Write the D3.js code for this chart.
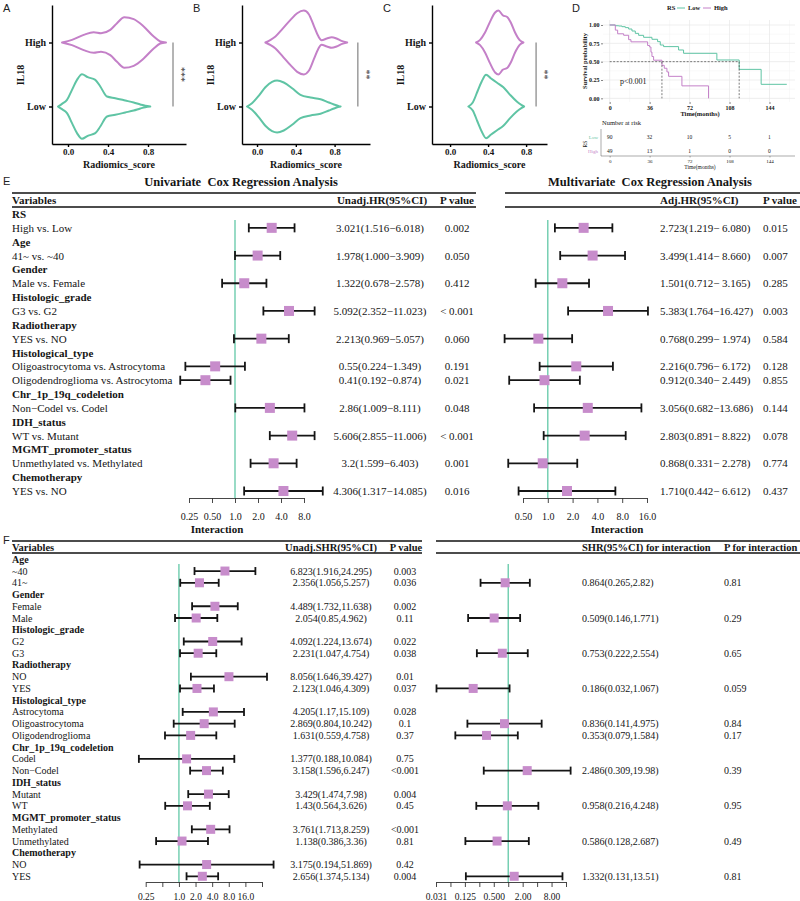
<!DOCTYPE html>
<html>
<head>
<meta charset="utf-8">
<script src="https://cdn.jsdelivr.net/npm/d3@7"></script>
<style>
  body { margin: 0; background: #fff; }
  svg { display: block; }
</style>
</head>
<body>
<div id="chart"></div>
<script>
// ---------- Data ----------

// Violin outlines: [Radiomics_score, relative density]
var violinGroups = ["High", "Low"];
var violinTicks = [0, 0.4, 0.8];
var violinA_High = [[-0.06,0],[0.04,0.08],[0.157,0.23],[0.257,0.31],[0.33,0.28],[0.423,0.38],[0.49,0.58],[0.563,0.76],[0.657,0.70],[0.757,0.48],[0.857,0.18],[0.923,0.03],[0.98,0]];
var violinA_Low  = [[-0.10,0],[-0.06,0.08],[-0.01,0.20],[0.04,0.50],[0.09,0.80],[0.14,0.97],[0.197,0.88],[0.273,0.80],[0.323,0.60],[0.39,0.30],[0.473,0.25],[0.573,0.18],[0.657,0.12],[0.723,0.06],[0.773,0.02],[0.823,0]];
var violinB_High = [[0.086,0],[0.14,0.08],[0.19,0.18],[0.26,0.40],[0.345,0.68],[0.414,0.88],[0.483,0.96],[0.534,0.85],[0.586,0.50],[0.63,0.20],[0.665,0.07],[0.72,0.12],[0.77,0.16],[0.82,0.12],[0.87,0.05],[0.93,0]];
var violinB_Low  = [[-0.103,0],[-0.052,0.10],[0.017,0.32],[0.086,0.58],[0.155,0.74],[0.207,0.78],[0.276,0.72],[0.362,0.55],[0.448,0.35],[0.552,0.27],[0.655,0.22],[0.741,0.12],[0.793,0.06],[0.845,0.01],[0.862,0]];
var violinC_High = [[0.274,0],[0.316,0.08],[0.368,0.30],[0.42,0.62],[0.474,0.90],[0.509,0.96],[0.554,0.82],[0.604,0.76],[0.639,0.60],[0.684,0.30],[0.73,0.08],[0.772,0]];
var violinC_Low  = [[0.193,0],[0.239,0.12],[0.288,0.45],[0.333,0.75],[0.379,0.95],[0.428,0.85],[0.491,0.72],[0.561,0.58],[0.632,0.35],[0.702,0.15],[0.754,0.04],[0.779,0]];

// Kaplan-Meier steps (months, survival probability)
var kmLowTime  = [0, 5.1, 8.1, 11.1, 14.1, 17.1, 20.1, 23.1, 26.1, 30.6, 38.1, 43.2, 45.6, 48.6, 62.1, 66.6, 96.6, 116.7, 136.5, 159.6];
var kmLowSurv  = [1, 0.99, 0.986, 0.977, 0.964, 0.945, 0.918, 0.886, 0.859, 0.832, 0.805, 0.773, 0.727, 0.705, 0.659, 0.614, 0.523, 0.395, 0.191, 0.191];
var kmHighTime = [0, 5.1, 7.2, 12.6, 17.1, 19.2, 34.2, 36, 37.2, 38.1, 39.6, 47.1, 49.2, 51.6, 53.1, 65.1, 89.1];
var kmHighSurv = [1, 0.93, 0.88, 0.86, 0.80, 0.77, 0.72, 0.70, 0.63, 0.57, 0.52, 0.45, 0.41, 0.36, 0.30, 0.17, 0];
var kmTicks = [0, 36, 72, 108, 144];
var kmSurvTicks = [0, 0.25, 0.5, 0.75, 1];
var riskLow  = [90, 32, 10, 5, 1];
var riskHigh = [49, 13, 1, 0, 0];

// Panel E: Cox regression
var coxVariables = ["RS", "Age", "Gender", "Histologic_grade", "Radiotherapy", "Histological_type",
                    "Chr_1p_19q_codeletion", "IDH_status", "MGMT_promoter_status", "Chemotherapy"];
var coxComparisons = [["High vs. Low"], ["41~ vs. ~40"], ["Male vs. Female"], ["G3 vs. G2"], ["YES vs. NO"],
                      ["Oligoastrocytoma vs. Astrocytoma", "Oligodendroglioma vs. Astrocytoma"],
                      ["Non\u2212Codel vs. Codel"], ["WT vs. Mutant"], ["Unmethylated vs. Methylated"], ["YES vs. NO"]];
var uniHR = [3.021, 1.978, 1.322, 5.092, 2.213, 0.55, 0.41, 2.86, 5.606, 3.2, 4.306];
var uniLo = [1.516, 1.000, 0.678, 2.352, 0.969, 0.224, 0.192, 1.009, 2.855, 1.599, 1.317];
var uniHi = [6.018, 3.909, 2.578, 11.023, 5.057, 1.349, 0.874, 8.111, 11.006, 6.403, 14.085];
var uniHRText = ["3.021(1.516\u22126.018)", "1.978(1.000\u22123.909)", "1.322(0.678\u22122.578)", "5.092(2.352\u221211.023)",
                 "2.213(0.969\u22125.057)", "0.55(0.224\u22121.349)", "0.41(0.192\u22120.874)", "2.86(1.009\u22128.111)",
                 "5.606(2.855\u221211.006)", "3.2(1.599\u22126.403)", "4.306(1.317\u221214.085)"];
var uniP = ["0.002", "0.050", "0.412", "< 0.001", "0.060", "0.191", "0.021", "0.048", "< 0.001", "0.001", "0.016"];
var multiHR = [2.723, 3.499, 1.501, 5.383, 0.768, 2.216, 0.912, 3.056, 2.803, 0.868, 1.710];
var multiLo = [1.219, 1.414, 0.712, 1.764, 0.299, 0.796, 0.340, 0.682, 0.891, 0.331, 0.442];
var multiHi = [6.080, 8.660, 3.165, 16.427, 1.974, 6.172, 2.449, 13.686, 8.822, 2.278, 6.612];
var multiP = ["0.015", "0.007", "0.285", "0.003", "0.584", "0.128", "0.855", "0.144", "0.078", "0.774", "0.437"];
var uniTicks = [0.25, 0.5, 1, 2, 4, 8];
var uniTickLabels = ["0.25", "0.50", "1.0", "2.0", "4.0", "8.0"];
var multiTicks = [0.5, 1, 2, 4, 8, 16];
var multiTickLabels = ["0.50", "1.0", "2.0", "4.0", "8.0", "16.0"];

// Panel F: subgroup competing-risk analysis
var subVariables = ["Age", "Gender", "Histologic_grade", "Radiotherapy", "Histological_type",
                    "Chr_1p_19q_codeletion", "IDH_status", "MGMT_promoter_status", "Chemotherapy"];
var subLevels = [["~40", "41~"], ["Female", "Male"], ["G2", "G3"], ["NO", "YES"],
                 ["Astrocytoma", "Oligoastrocytoma", "Oligodendroglioma"], ["Codel", "Non\u2212Codel"],
                 ["Mutant", "WT"], ["Methylated", "Unmethylated"], ["NO", "YES"]];
var subSHR = [6.823, 2.356, 4.489, 2.054, 4.092, 2.231, 8.056, 2.123, 4.205, 2.869, 1.631, 1.377, 3.158, 3.429, 1.43, 3.761, 1.138, 3.175, 2.656];
var subLo  = [1.916, 1.056, 1.732, 0.85, 1.224, 1.047, 1.646, 1.046, 1.17, 0.804, 0.559, 0.188, 1.596, 1.474, 0.564, 1.713, 0.386, 0.194, 1.374];
var subHi  = [24.295, 5.257, 11.638, 4.962, 13.674, 4.754, 39.427, 4.309, 15.109, 10.242, 4.758, 10.084, 6.247, 7.98, 3.626, 8.259, 3.36, 51.869, 5.134];
var subP   = ["0.003", "0.036", "0.002", "0.11", "0.022", "0.038", "0.01", "0.037", "0.028", "0.1", "0.37", "0.75", "<0.001", "0.004", "0.45", "<0.001", "0.81", "0.42", "0.004"];
var intSHR = [0.864, 0.509, 0.753, 0.186, 0.836, 0.353, 2.486, 0.958, 0.586, 1.332];
var intLo  = [0.265, 0.146, 0.222, 0.032, 0.141, 0.079, 0.309, 0.216, 0.128, 0.131];
var intHi  = [2.82, 1.771, 2.554, 1.067, 4.975, 1.584, 19.98, 4.248, 2.687, 13.51];
var intP   = ["0.81", "0.29", "0.65", "0.059", "0.84", "0.17", "0.39", "0.95", "0.49", "0.81"];
var subTicks = [0.25, 0.5, 1, 2, 4, 8, 16, 32];
var subTickLabels = ["0.25", "", "1.0", "2.0", "4.0", "8.0", "16.0", ""];
var intTicks = [1/32, 1/16, 1/8, 1/4, 1/2, 1, 2, 4, 8, 16];
var intTickLabels = ["0.031", "", "0.125", "", "0.500", "", "2.00", "", "8.00", ""];

// ---------- Styling ----------
var colLow = "#5fc4a4", colHigh = "#c480c8", colBox = "#c78ccb", colRef = "#62c8a7";
var serif = '"Liberation Serif","Times New Roman",serif';
var sans = '"Liberation Sans",Arial,sans-serif';
var ink = "#151515";

var svg = d3.select("#chart").append("svg")
    .attr("width", 800)
    .attr("height", 901)
    .attr("viewBox", "0 0 800 901");
svg.append("rect").attr("width", 800).attr("height", 901).attr("fill", "#fff");

function addText(sel, x, y, str, o) {
    o = o || {};
    var t = sel.append("text")
        .attr("x", x).attr("y", y)
        .attr("text-anchor", o.anchor || "start")
        .style("font-family", o.family || serif)
        .style("font-size", (o.size || 11) + "px")
        .style("font-weight", o.bold ? "bold" : "normal")
        .style("fill", o.fill || ink)
        .style("white-space", "pre")
        .text(str);
    if (o.rotate) t.attr("transform", "rotate(" + o.rotate + "," + x + "," + y + ")");
    return t;
}

function styleAxis(ax, fs, bold, stroke, sw) {
    ax.selectAll("path.domain").attr("stroke", stroke || ink).attr("stroke-width", sw || 1);
    ax.selectAll(".tick line").attr("stroke", stroke || ink).attr("stroke-width", sw || 1);
    ax.selectAll("text")
        .style("font-family", serif)
        .style("font-size", fs + "px")
        .style("font-weight", bold ? "bold" : "normal")
        .attr("fill", ink);
}

// ---------- Panel letters ----------
[["A", 3, 12], ["B", 193, 12], ["C", 383, 12], ["D", 572, 12], ["E", 3, 185], ["F", 3, 544]].forEach(function(l) {
    addText(svg, l[1], l[2], l[0], { family: sans, size: 11, fill: "#222" });
});

// ---------- Panels A-C: violins ----------
var violinLayout = [
    { data: [violinA_High, violinA_Low], domain: [-0.16, 1.18],  range: [52, 186],  sig: 1.05,  stars: "***" },
    { data: [violinB_High, violinB_Low], domain: [-0.155, 1.165], range: [242, 370], sig: 1.04,  stars: "**" },
    { data: [violinC_High, violinC_Low], domain: [-0.19, 1.02],  range: [432, 547], sig: 0.905, stars: "**" }
];

violinLayout.forEach(function(p) {
    var g = svg.append("g");
    var x = d3.scaleLinear().domain(p.domain).range(p.range);
    var y = d3.scalePoint().domain(violinGroups).range([5, 144]).padding(0.586);
    var w = d3.scaleLinear().domain([0, 1]).range([0, 33.3]);

    p.data.forEach(function(vals, i) {
        var grp = violinGroups[i];
        var cy = y(grp);
        var area = d3.area()
            .curve(d3.curveMonotoneX)
            .x(function(d) { return x(d[0]); })
            .y0(function(d) { return cy - w(d[1]); })
            .y1(function(d) { return cy + w(d[1]); });
        g.append("path")
            .datum(vals)
            .attr("d", area)
            .attr("fill", "#fff")
            .attr("stroke", grp === "High" ? colHigh : colLow)
            .attr("stroke-width", 2)
            .attr("stroke-linejoin", "round");
    });

    var xa = g.append("g")
        .attr("transform", "translate(0,144)")
        .call(d3.axisBottom(x).tickValues(violinTicks).tickFormat(d3.format(".1f")).tickSizeInner(3).tickSizeOuter(0).tickPadding(2));
    styleAxis(xa, 9, true, "#000", 1.4);

    var ya = g.append("g")
        .attr("transform", "translate(" + p.range[0] + ",0)")
        .call(d3.axisLeft(y).tickSizeInner(3).tickSizeOuter(0).tickPadding(3));
    styleAxis(ya, 10, true, "#000", 1.4);

    // significance bar
    g.append("line")
        .attr("x1", x(p.sig)).attr("x2", x(p.sig))
        .attr("y1", y("High")).attr("y2", y("Low"))
        .attr("stroke", "#444").attr("stroke-width", 0.8);
    addText(g, x(p.sig) + 5, (y("High") + y("Low")) / 2, p.stars, { size: 10, anchor: "middle", rotate: 90, fill: "#333" });

    addText(g, p.range[0] - 28, 75, "IL18", { size: 10, bold: true, anchor: "middle", rotate: -90 });
    addText(g, (p.range[0] + p.range[1]) / 2, 168, "Radiomics_score", { size: 10, bold: true, anchor: "middle" });
});

// ---------- Panel D: Kaplan-Meier ----------
(function() {
    var g = svg.append("g");
    var x = d3.scaleLinear().domain([-6, 167]).range([603, 795]);
    var y = d3.scaleLinear().domain([-0.05, 1.068]).range([102, 20]);

    // grid
    var minorX = [18, 54, 90, 126, 162], minorY = [0.125, 0.375, 0.625, 0.875];
    minorX.forEach(function(t) {
        g.append("line").attr("x1", x(t)).attr("x2", x(t)).attr("y1", 20).attr("y2", 102).attr("stroke", "#f2f2f2").attr("stroke-width", 0.5);
    });
    minorY.forEach(function(s) {
        g.append("line").attr("x1", 603).attr("x2", 795).attr("y1", y(s)).attr("y2", y(s)).attr("stroke", "#f2f2f2").attr("stroke-width", 0.5);
    });
    kmTicks.forEach(function(t) {
        g.append("line").attr("x1", x(t)).attr("x2", x(t)).attr("y1", 20).attr("y2", 102).attr("stroke", "#e6e6e6").attr("stroke-width", 0.7);
    });
    kmSurvTicks.forEach(function(s) {
        g.append("line").attr("x1", 603).attr("x2", 795).attr("y1", y(s)).attr("y2", y(s)).attr("stroke", "#e6e6e6").attr("stroke-width", 0.7);
    });

    var ya = g.append("g").attr("transform", "translate(603,0)")
        .call(d3.axisLeft(y).tickValues(kmSurvTicks).tickFormat(d3.format(".2f")).tickSize(2).tickPadding(1.5));
    ya.select(".domain").remove();
    styleAxis(ya, 6, true, "#333", 0.6);
    var xa = g.append("g").attr("transform", "translate(0,102)")
        .call(d3.axisBottom(x).tickValues(kmTicks).tickSize(2).tickPadding(1.5));
    xa.select(".domain").remove();
    styleAxis(xa, 6, true, "#333", 0.6);

    var step = d3.line().curve(d3.curveStepAfter)
        .x(function(d) { return x(d[0]); })
        .y(function(d) { return y(d[1]); });
    var lowPts = d3.zip(kmLowTime, kmLowSurv), highPts = d3.zip(kmHighTime, kmHighSurv);
    g.append("path").datum(lowPts).attr("d", step).attr("fill", "none").attr("stroke", colLow).attr("stroke-width", 1);
    g.append("path").datum(highPts).attr("d", step).attr("fill", "none").attr("stroke", colHigh).attr("stroke-width", 1);

    // median survival lines
    function median(times, surv) {
        for (var i = 0; i < surv.length; i++) if (surv[i] <= 0.5) return times[i];
        return null;
    }
    var medLow = median(kmLowTime, kmLowSurv), medHigh = median(kmHighTime, kmHighSurv);
    g.append("line").attr("x1", x(0)).attr("x2", x(Math.max(medLow, medHigh))).attr("y1", y(0.5)).attr("y2", y(0.5))
        .attr("stroke", "#444").attr("stroke-width", 0.7).attr("stroke-dasharray", "2,1.5");
    [medLow, medHigh].forEach(function(m) {
        g.append("line").attr("x1", x(m)).attr("x2", x(m)).attr("y1", y(0.5)).attr("y2", y(0))
            .attr("stroke", "#444").attr("stroke-width", 0.7).attr("stroke-dasharray", "2,1.5");
    });

    addText(g, 620, 84, "p<0.001", { size: 8 });
    addText(g, 587, 61, "Survival probability", { size: 6.5, bold: true, anchor: "middle", rotate: -90 });
    addText(g, 700, 116, "Time(months)", { size: 6.5, bold: true, anchor: "middle" });

    // legend
    addText(g, 667, 10, "RS", { size: 6.5, bold: true });
    g.append("line").attr("x1", 677).attr("x2", 685).attr("y1", 8).attr("y2", 8).attr("stroke", colLow).attr("stroke-width", 1);
    addText(g, 688, 10, "Low", { size: 6.5, bold: true });
    g.append("line").attr("x1", 703).attr("x2", 711).attr("y1", 8).attr("y2", 8).attr("stroke", colHigh).attr("stroke-width", 1);
    addText(g, 714, 10, "High", { size: 6.5, bold: true });

    // risk table
    var ry = d3.scalePoint().domain(["Low", "High"]).range([137, 151]);
    addText(g, 602, 125, "Number at risk", { size: 6.5 });
    g.append("line").attr("x1", 601).attr("x2", 601).attr("y1", 129).attr("y2", 156).attr("stroke", "#555").attr("stroke-width", 0.5);
    var ra = g.append("g").attr("transform", "translate(0,156)")
        .call(d3.axisBottom(x).tickValues(kmTicks).tickSizeInner(1.5).tickSizeOuter(0).tickPadding(1.5));
    styleAxis(ra, 5, false, "#555", 0.5);
    ra.select(".domain").attr("d", "M601,0H795");
    [["Low", riskLow, colLow], ["High", riskHigh, colHigh]].forEach(function(r) {
        addText(g, 598, ry(r[0]) + 2, r[0], { size: 5, anchor: "end", fill: r[2] });
        r[1].forEach(function(v, i) {
            addText(g, x(kmTicks[i]), ry(r[0]) + 2, String(v), { size: 5.5, anchor: "middle" });
        });
    });
    addText(g, 587, 144, "RS", { size: 5.5, anchor: "middle", rotate: -90 });
    addText(g, 700, 169, "Time(months)", { size: 5.5, anchor: "middle" });
})();

// ---------- Forest helper ----------
function drawForest(g, x, rows, cfg) {
    g.append("line")
        .attr("x1", x(1)).attr("x2", x(1))
        .attr("y1", cfg.refTop).attr("y2", cfg.axisY)
        .attr("stroke", colRef).attr("stroke-width", 1.3);
    rows.forEach(function(r) {
        g.append("line").attr("x1", x(r.lo)).attr("x2", x(r.hi)).attr("y1", r.y).attr("y2", r.y)
            .attr("stroke", ink).attr("stroke-width", 1.8);
        [r.lo, r.hi].forEach(function(v) {
            g.append("line").attr("x1", x(v)).attr("x2", x(v)).attr("y1", r.y - cfg.cap).attr("y2", r.y + cfg.cap)
                .attr("stroke", ink).attr("stroke-width", 1.8);
        });
        g.append("rect")
            .attr("x", x(r.est) - cfg.box / 2).attr("y", r.y - cfg.box / 2)
            .attr("width", cfg.box).attr("height", cfg.box)
            .attr("fill", colBox);
    });
    var ax = g.append("g")
        .attr("transform", "translate(0," + cfg.axisY + ")")
        .call(d3.axisBottom(x).tickValues(cfg.ticks)
            .tickFormat(function(d, i) { return cfg.labels[i]; })
            .tickSizeInner(5).tickSizeOuter(0).tickPadding(cfg.pad));
    styleAxis(ax, cfg.fs, false, "#333", 0.9);
}

function tableLines(g, x1, x2, yTop, yBot) {
    [yTop, yBot].forEach(function(yy) {
        g.append("line").attr("x1", x1).attr("x2", x2).attr("y1", yy).attr("y2", yy)
            .attr("stroke", "#111").attr("stroke-width", 1.4);
    });
}

// ---------- Panel E ----------
(function() {
    var g = svg.append("g");
    var rowY = d3.scaleLinear().domain([0, 1]).range([214, 227.85]);
    var rows = [], idx = 0, k = 0;
    coxVariables.forEach(function(v, vi) {
        rows.push({ label: v, header: true, i: idx++ });
        coxComparisons[vi].forEach(function(c) {
            rows.push({ label: c, header: false, i: idx++, k: k++ });
        });
    });

    addText(g, 241, 186, "Univariate  Cox Regression Analysis", { size: 12.5, bold: true, anchor: "middle" });
    addText(g, 650, 186, "Multivariate  Cox Regression Analysis", { size: 12.5, bold: true, anchor: "middle" });

    tableLines(g, 12, 476, 193, 207);
    tableLines(g, 505, 800, 193, 207);
    addText(g, 12, 204, "Variables", { size: 11, bold: true });
    addText(g, 382, 204, "Unadj.HR(95%CI)", { size: 11, bold: true, anchor: "middle" });
    addText(g, 457, 204, "P value", { size: 11, bold: true, anchor: "middle" });
    addText(g, 660, 204, "Adj.HR(95%CI)", { size: 11, bold: true });
    addText(g, 763, 204, "P value", { size: 11, bold: true });

    var fmt3 = d3.format(".3f");
    function pad(v) { return (v < 10 ? " " : "") + fmt3(v); }

    var uniRows = [], multiRows = [];
    rows.forEach(function(r) {
        var yy = rowY(r.i);
        addText(g, 12, yy + 4, r.label, { size: 11, bold: r.header });
        if (r.header) return;
        addText(g, 380, yy + 4, uniHRText[r.k], { size: 11, anchor: "middle" });
        addText(g, 457, yy + 4, uniP[r.k], { size: 11, anchor: "middle" });
        addText(g, 660, yy + 4, fmt3(multiHR[r.k]) + "(" + fmt3(multiLo[r.k]) + "\u2212" + pad(multiHi[r.k]) + ")", { size: 11 });
        addText(g, 763, yy + 4, multiP[r.k], { size: 11 });
        uniRows.push({ y: yy, est: uniHR[r.k], lo: uniLo[r.k], hi: uniHi[r.k] });
        multiRows.push({ y: yy, est: multiHR[r.k], lo: multiLo[r.k], hi: multiHi[r.k] });
    });

    var xu = d3.scaleLog().base(2).domain([0.25, 8]).range([189, 304]);
    drawForest(g, xu, uniRows, { refTop: 220, axisY: 498, ticks: uniTicks, labels: uniTickLabels, pad: 10, fs: 10, cap: 4.5, box: 10 });
    var xm = d3.scaleLog().base(2).domain([0.5, 16]).range([523, 647]);
    drawForest(g, xm, multiRows, { refTop: 220, axisY: 498, ticks: multiTicks, labels: multiTickLabels, pad: 10, fs: 10, cap: 4.5, box: 10 });
    addText(g, 217, 533, "Interaction", { size: 11, bold: true, anchor: "middle" });
    addText(g, 617, 533, "Interaction", { size: 11, bold: true, anchor: "middle" });
})();

// ---------- Panel F ----------
(function() {
    var g = svg.append("g");
    var rowY = d3.scaleLinear().domain([0, 1]).range([559.3, 571.04]);
    var rows = [], idx = 0, m = 0, n = 0;
    subVariables.forEach(function(v, vi) {
        rows.push({ label: v, header: true, i: idx++ });
        subLevels[vi].forEach(function(lv, li) {
            rows.push({ label: lv, header: false, i: idx++, m: m++, n: li > 0 ? n++ : null });
        });
    });

    tableLines(g, 12, 422, 541, 553);
    tableLines(g, 436, 800, 541, 553);
    addText(g, 12, 551, "Variables", { size: 10.5, bold: true });
    addText(g, 331, 551, "Unadj.SHR(95%CI)", { size: 10.5, bold: true, anchor: "middle" });
    addText(g, 406, 551, "P value", { size: 10.5, bold: true, anchor: "middle" });
    addText(g, 582, 551, "SHR(95%CI) for interaction", { size: 10.5, bold: true });
    addText(g, 724, 551, "P for interaction", { size: 10.5, bold: true });

    var subRows = [], intRows = [];
    rows.forEach(function(r) {
        var yy = rowY(r.i);
        addText(g, 12, yy + 3.5, r.label, { size: 10, bold: r.header });
        if (r.header) return;
        addText(g, 331, yy + 3.5, subSHR[r.m] + "(" + subLo[r.m] + "," + subHi[r.m] + ")", { size: 10, anchor: "middle" });
        addText(g, 405, yy + 3.5, subP[r.m], { size: 10, anchor: "middle" });
        subRows.push({ y: yy, est: subSHR[r.m], lo: subLo[r.m], hi: subHi[r.m] });
        if (r.n !== null) {
            addText(g, 582, yy + 3.5, intSHR[r.n] + "(" + intLo[r.n] + "," + intHi[r.n] + ")", { size: 10 });
            addText(g, 724, yy + 3.5, intP[r.n], { size: 10 });
            intRows.push({ y: yy, est: intSHR[r.n], lo: intLo[r.n], hi: intHi[r.n] });
        }
    });

    var xs = d3.scaleLog().base(2).domain([0.25, 32]).range([145.7, 262]);
    drawForest(g, xs, subRows, { refTop: 564, axisY: 882, ticks: subTicks, labels: subTickLabels, pad: 6, fs: 9.5, cap: 4, box: 9 });
    var xi = d3.scaleLog().base(2).domain([1 / 32, 16]).range([436, 566]);
    drawForest(g, xi, intRows, { refTop: 564, axisY: 882, ticks: intTicks, labels: intTickLabels, pad: 6, fs: 9.5, cap: 4, box: 9 });
})();
</script>
</body>
</html>
